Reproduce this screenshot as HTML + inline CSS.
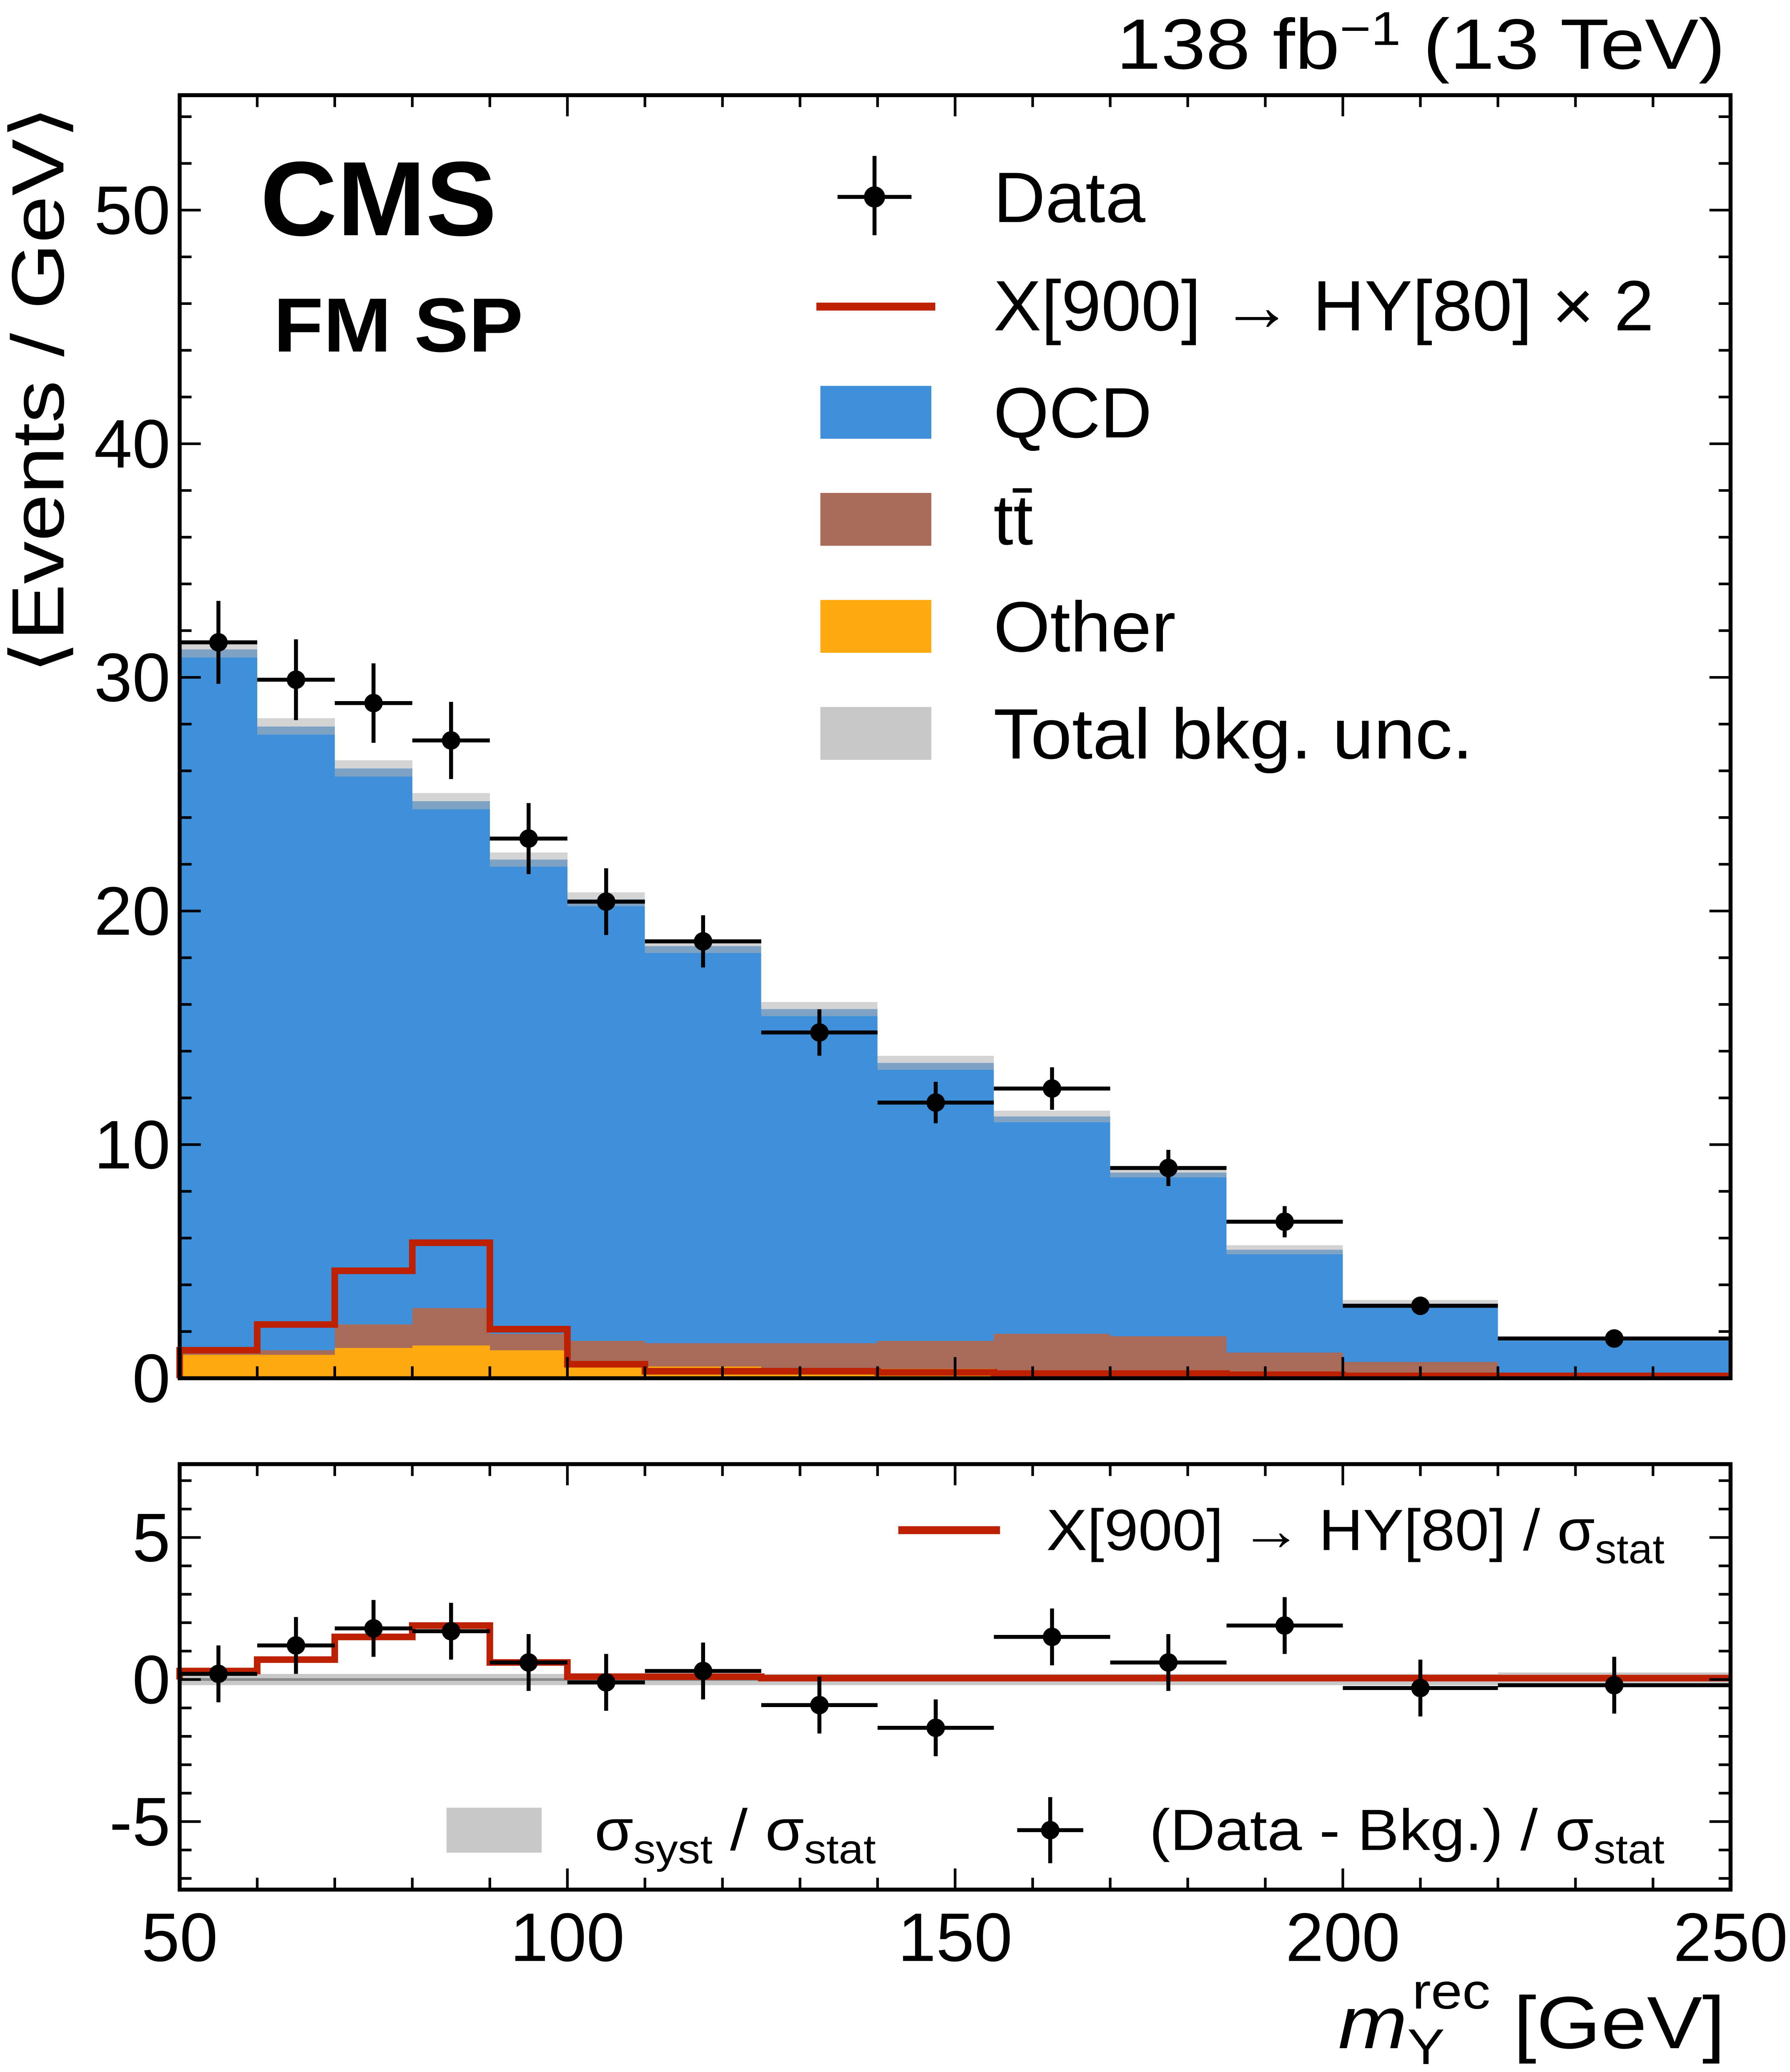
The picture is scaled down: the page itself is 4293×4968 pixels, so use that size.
<!DOCTYPE html>
<html><head><meta charset="utf-8"><style>
html,body{margin:0;padding:0;background:#fff}
svg{display:block}
text{font-family:"Liberation Sans",sans-serif;fill:#000}
</style></head><body>
<svg id="c" xmlns="http://www.w3.org/2000/svg" width="4293" height="4968" viewBox="0 0 1355 1568">
<g id="g"></g>
</svg>
<script>
const edges=[50,60,70,80,90,100,110,125,140,155,170,185,200,220,250];
const totalBkg=[31.2,27.9,26.1,24.7,22.2,20.5,18.5,15.8,13.5,11.2,8.8,5.5,3.2,1.7];
const ttOther=[1.2,1.2,2.3,3.0,1.9,1.6,1.5,1.5,1.6,1.9,1.8,1.1,0.7,0.2];
const other=[1.0,1.0,1.3,1.4,1.2,0.5,0.5,0.4,0.4,0.3,0.3,0.2,0.1,0.05];
const bkgUnc=[0.35,0.35,0.35,0.35,0.3,0.3,0.3,0.3,0.3,0.25,0.2,0.2,0.15,0.1];
const signal=[1.2,2.3,4.6,5.8,2.1,0.6,0.3,0.3,0.25,0.2,0.2,0.15,0.1,0.1];
const data=[31.5,29.9,28.9,27.3,23.1,20.4,18.7,14.8,11.8,12.4,9.0,6.7,3.1,1.7];
const pulls=[0.2,1.2,1.8,1.7,0.6,-0.1,0.3,-0.9,-1.7,1.5,0.6,1.9,-0.3,-0.2];
const sigPull=[0.3,0.7,1.5,1.9,0.6,0.1,0.1,0.05,0.05,0.05,0.05,0.05,0.05,0.05];
const systBand=[0.2,0.2,0.2,0.2,0.2,0.2,0.2,0.2,0.2,0.2,0.2,0.2,0.2,0.25];
const xTicks=[50,100,150,200,250];
const yTicks=[0,10,20,30,40,50];
const rTicks=[-5,0,5];

const NS="http://www.w3.org/2000/svg",G=document.getElementById('g');
function el(t,a,p){const e=document.createElementNS(NS,t);for(const k in a)e.setAttribute(k,a[k]);(p||G).appendChild(e);return e;}
const L=136,R=1310,T=72,B=1043,RT=1108,RB=1430;
const X=v=>L+(v-50)*(R-L)/200;
const Y=v=>B-v*(B-159)/50;
const RY=v=>1271-v*21.5;

for(let i=0;i<14;i++){
 const x0=X(edges[i]),x1=X(edges[i+1]);
 let r=el('rect',{x:x0,y:Y(totalBkg[i]),width:x1-x0,height:Y(ttOther[i])-Y(totalBkg[i]),fill:'#3f90da','shape-rendering':'crispEdges'});
 
 r=el('rect',{x:x0,y:Y(ttOther[i]),width:x1-x0,height:Y(other[i])-Y(ttOther[i]),fill:'#a96b59','shape-rendering':'crispEdges'});
 
 r=el('rect',{x:x0,y:Y(other[i]),width:x1-x0,height:B-Y(other[i]),fill:'#ffa90e','shape-rendering':'crispEdges'});
 
 r=el('rect',{x:x0,y:Y(totalBkg[i]+bkgUnc[i]),width:x1-x0,height:Y(totalBkg[i]-bkgUnc[i])-Y(totalBkg[i]+bkgUnc[i]),fill:'#b0b0b0','fill-opacity':0.55,'shape-rendering':'crispEdges'});
 
}
function step(vals,yf){let d='M'+X(edges[0])+' '+yf(0);for(let i=0;i<vals.length;i++){d+=' L'+X(edges[i])+' '+yf(vals[i])+' L'+X(edges[i+1])+' '+yf(vals[i]);}return d;}
let s=el('path',{d:step(signal,Y),fill:'none',stroke:'#bd1f01','stroke-width':5});

for(let i=0;i<14;i++){
 const w=edges[i+1]-edges[i],c=(edges[i]+edges[i+1])/2,e=Math.sqrt(data[i]*w)/w;
 const g=el('g',{});
 el('line',{x1:X(edges[i]),x2:X(edges[i+1]),y1:Y(data[i]),y2:Y(data[i]),stroke:'#000','stroke-width':3},g);
 el('line',{x1:X(c),x2:X(c),y1:Y(data[i]-e),y2:Y(data[i]+e),stroke:'#000','stroke-width':3},g);
 el('circle',{cx:X(c),cy:Y(data[i]),r:7,fill:'#000'},g);
}
for(let i=0;i<14;i++){
 const x0=X(edges[i]),x1=X(edges[i+1]);
 const r=el('rect',{x:x0,y:RY(systBand[i]),width:x1-x0,height:RY(-systBand[i])-RY(systBand[i]),fill:'#c8c8c8','shape-rendering':'crispEdges'});
 
}
el('line',{x1:L,x2:R,y1:RY(0),y2:RY(0),stroke:'#888','stroke-width':2});
s=el('path',{d:step(sigPull,RY),fill:'none',stroke:'#bd1f01','stroke-width':5});

for(let i=0;i<14;i++){
 const c=(edges[i]+edges[i+1])/2;
 const g=el('g',{});
 el('line',{x1:X(edges[i]),x2:X(edges[i+1]),y1:RY(pulls[i]),y2:RY(pulls[i]),stroke:'#000','stroke-width':3},g);
 el('line',{x1:X(c),x2:X(c),y1:RY(pulls[i]-1),y2:RY(pulls[i]+1),stroke:'#000','stroke-width':3},g);
 el('circle',{cx:X(c),cy:RY(pulls[i]),r:7,fill:'#000'},g);
}
function frame(top,bot,yfn,maj,minStep,lo,hi,labels){
 el('rect',{x:L,y:top,width:R-L,height:bot-top,fill:'none',stroke:'#000','stroke-width':3});
 for(let v=50;v<=250;v+=10){const m=v%50==0,l=m?16:9;
  el('line',{x1:X(v),x2:X(v),y1:bot,y2:bot-l,stroke:'#000','stroke-width':2});
  el('line',{x1:X(v),x2:X(v),y1:top,y2:top+l,stroke:'#000','stroke-width':2});}
 for(let v=lo;v<=hi+1e-9;v+=minStep){const yy=yfn(v);if(yy<top-1||yy>bot+1)continue;const m=Math.abs(v/maj-Math.round(v/maj))<1e-6,l=m?16:9;
  el('line',{x1:L,x2:L+l,y1:yy,y2:yy,stroke:'#000','stroke-width':2});
  el('line',{x1:R,x2:R-l,y1:yy,y2:yy,stroke:'#000','stroke-width':2});}
 labels.forEach(v=>{const t=el('text',{x:129,y:yfn(v)+18,'text-anchor':'end','font-size':52});t.textContent=v;
  });
}
frame(T,B,Y,10,2,0,54,yTicks);
frame(RT,RB,RY,5,1,-7,7,rTicks);
xTicks.forEach(v=>{const t=el('text',{x:X(v),y:1484,'text-anchor':'middle','font-size':52});t.textContent=v;
 });
</script>
<svg style="position:absolute;left:0;top:0" width="4293" height="4968" viewBox="0 0 1355 1568" xmlns="http://www.w3.org/2000/svg">
<text x="845" y="52" font-size="54" textLength="461" lengthAdjust="spacingAndGlyphs">138 fb<tspan dy="-18" font-size="36">−1</tspan><tspan dy="18"> (13 TeV)</tspan></text>
<text transform="translate(48,510) rotate(-90)" font-size="56" textLength="430" lengthAdjust="spacingAndGlyphs">⟨Events / GeV⟩</text>
<text x="197" y="178" font-size="80" font-weight="bold" textLength="179" lengthAdjust="spacingAndGlyphs">CMS</text>
<text x="207" y="266" font-size="58" font-weight="bold" textLength="189" lengthAdjust="spacingAndGlyphs">FM SP</text>
<g font-size="54">
 <line x1="634" x2="690" y1="149" y2="149" stroke="#000" stroke-width="3"/><line x1="662" x2="662" y1="118" y2="178" stroke="#000" stroke-width="3"/><circle cx="662" cy="149" r="8"/>
 <text x="752" y="168" textLength="115" lengthAdjust="spacingAndGlyphs">Data</text>
 <line x1="618" x2="708" y1="232" y2="232" stroke="#bd1f01" stroke-width="6"/>
 <text x="752" y="250" textLength="500" lengthAdjust="spacingAndGlyphs">X[900] → HY[80] × 2</text>
 <rect x="621" y="292" width="84" height="40" fill="#3f90da"/><text x="752" y="331" textLength="120" lengthAdjust="spacingAndGlyphs">QCD</text>
 <rect x="621" y="373" width="84" height="40" fill="#a96b59"/><text x="752" y="412">tt̄</text>
 <rect x="621" y="454" width="84" height="40" fill="#ffa90e"/><text x="752" y="493" textLength="138" lengthAdjust="spacingAndGlyphs">Other</text>
 <rect x="621" y="535" width="84" height="40" fill="#c8c8c8"/><text x="752" y="574" textLength="363" lengthAdjust="spacingAndGlyphs">Total bkg. unc.</text>
</g>
<g font-size="44">
 <line x1="680" x2="757" y1="1158" y2="1158" stroke="#bd1f01" stroke-width="6"/>
 <text x="792" y="1173" textLength="468" lengthAdjust="spacingAndGlyphs">X[900] → HY[80] / σ<tspan dy="10" font-size="31">stat</tspan></text>
 <rect x="338" y="1368" width="72" height="34" fill="#c8c8c8"/>
 <text x="450" y="1400" textLength="213" lengthAdjust="spacingAndGlyphs">σ<tspan dy="10" font-size="31">syst</tspan><tspan dy="-10"> / σ</tspan><tspan dy="10" font-size="31">stat</tspan></text>
 <line x1="770" x2="820" y1="1385" y2="1385" stroke="#000" stroke-width="3"/><line x1="795" x2="795" y1="1360" y2="1410" stroke="#000" stroke-width="3"/><circle cx="795" cy="1385" r="7"/>
 <text x="870" y="1400" textLength="390" lengthAdjust="spacingAndGlyphs">(Data - Bkg.) / σ<tspan dy="10" font-size="31">stat</tspan></text>
</g>
<text x="1013" y="1550" font-size="56" textLength="293" lengthAdjust="spacingAndGlyphs"><tspan font-style="italic">m</tspan><tspan dy="12" font-size="38">Y</tspan><tspan dx="-22" dy="-42" font-size="38">rec</tspan><tspan dy="30"> [GeV]</tspan></text>
</svg>
</body></html>
